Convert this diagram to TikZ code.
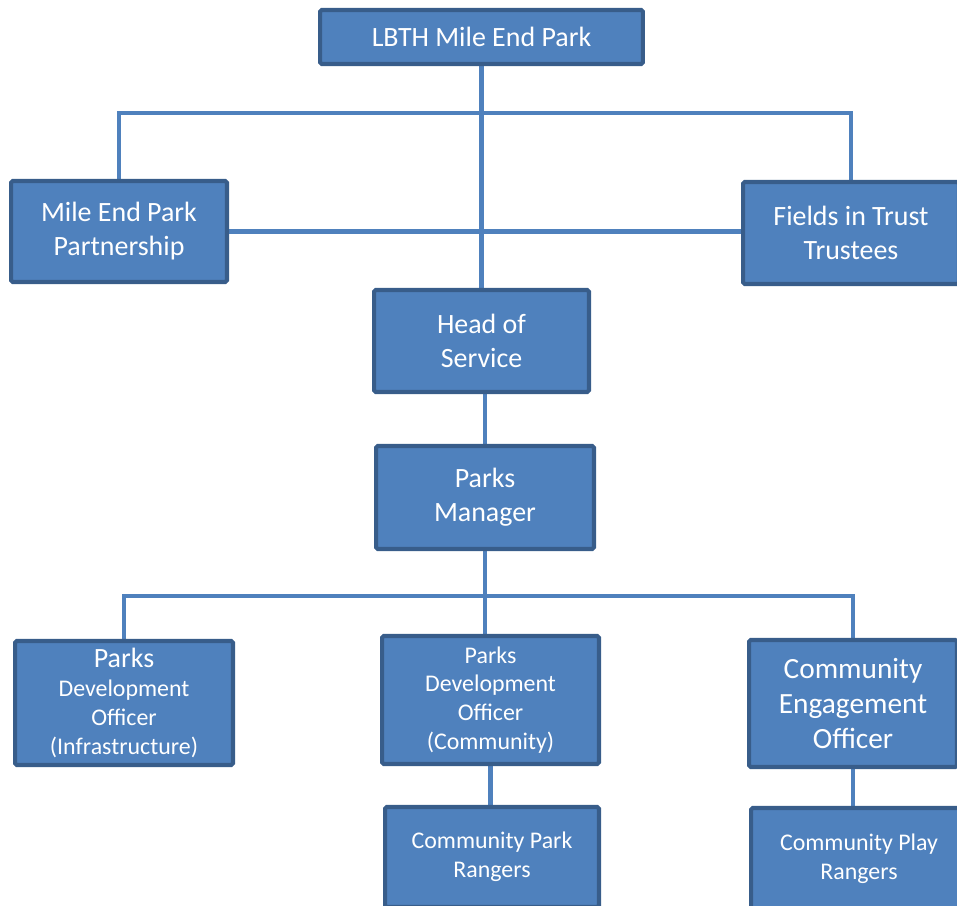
\documentclass[tikz,border=0pt]{standalone}
\usepackage{fontspec}
\setmainfont{Carlito}
\usetikzlibrary{positioning,backgrounds}

\begin{document}
\begin{tikzpicture}[x=0.02cm,y=-0.02cm]
\definecolor{post fill}{RGB}{79,129,189}
\definecolor{post edge}{RGB}{56,93,138}
\tikzset{
     post/.style 2 args={draw=post edge, fill=post fill, line width=2.3pt, rounded corners=1pt,
        text=white, align=center, inner sep=0pt, minimum width=#1, minimum height=#2,
        font=\fontsize{15.9}{19.3}\selectfont},
     small/.style={font=\fontsize{13.6}{16.4}\selectfont},
     large/.style={font=\fontsize{16.7}{19.8}\selectfont},
     link/.style={draw=post fill, line width=2.3pt}}

% The frame
\clip (0,0) rectangle (957,906);

% The boxes
\node (park)  [post={6.46cm}{1.08cm}] at (481.5,37) {LBTH Mile End Park};
\node (mepp)  [post={4.32cm}{2.02cm}] at (119,231.5) {Mile End Park\\Partnership};
\node (fit)   [post={4.32cm}{2.04cm}] at (851,233) {Fields in Trust\\Trustees};
\node (head)  [post={4.30cm}{2.04cm}] at (481.5,341) {Head of\\Service};
\node (mgr)   [post={4.36cm}{2.06cm}] at (485,497.5) {Parks\\Manager};
\node (pdoi)  [post={4.36cm}{2.48cm},small] at (124,703)
      {{\fontsize{15.9}{19.3}\selectfont Parks}\\Development\\Officer\\(Infrastructure)};
\node (pdoc)  [post={4.34cm}{2.56cm},small] at (490.5,700) {Parks\\Development\\Officer\\(Community)};
\node (ceo)   [post={4.16cm}{2.54cm},large] at (853,703.5) {Community\\Engagement\\Officer};
\node (cpr)   [post={4.28cm}{2.00cm},small] at (492,857) {Community Park\\Rangers};
\node (cplay) [post={4.32cm}{2.04cm},small] at (859,859) {Community Play\\Rangers};

% The connectors
\coordinate (topbus) at (483,113);
\coordinate (lowbus) at (489,596);
\begin{scope}[on background layer]
\draw [link] (park.south) -- (head.north);
\draw [link] (mepp.north) |- (topbus) -| (fit.north);
\draw [link] (mepp.east) -- (mepp.east -| fit.west);
\draw [link] (mgr.north) -- (mgr.north |- head.south);
\draw [link] (mgr.south) -- (mgr.south |- pdoc.north);
\draw [link] (pdoi.north) |- (lowbus) -| (ceo.north);
\draw [link] (pdoc.south) -- (pdoc.south |- cpr.north);
\draw [link] (ceo.south) -- (ceo.south |- cplay.north);
\end{scope}
\end{tikzpicture}
\end{document}
